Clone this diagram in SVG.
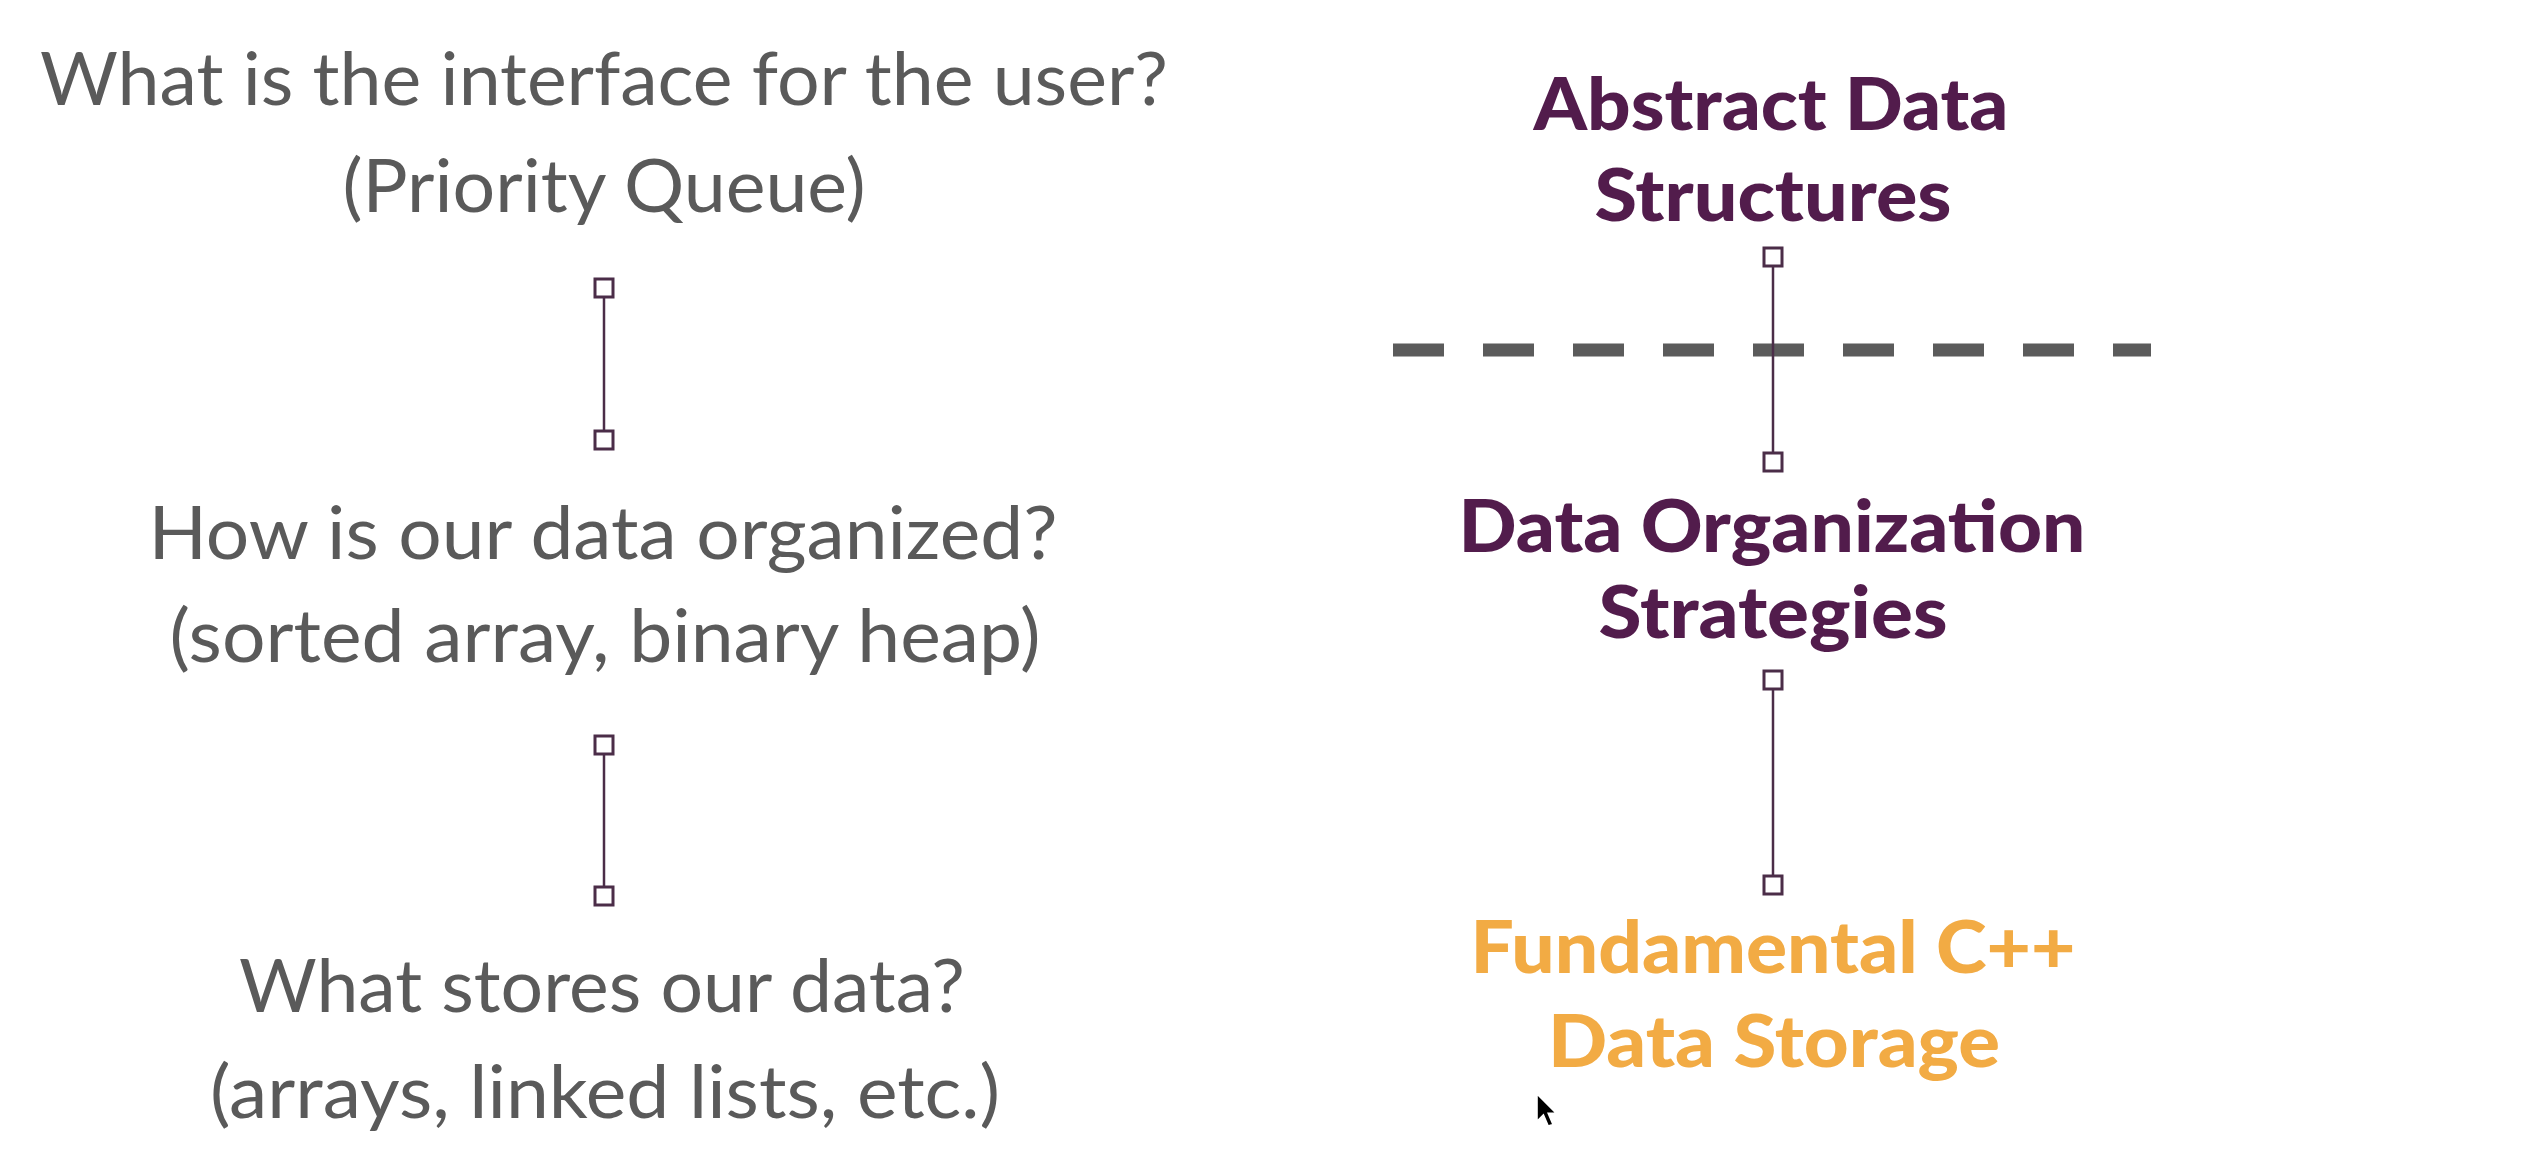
<svg xmlns="http://www.w3.org/2000/svg" width="2523" height="1173" viewBox="0 0 2523 1173">
  <style>
    .q { font-family: Lato, "Open Sans", "Liberation Sans", sans-serif; font-size: 73px; fill: #5a5a5a; text-anchor: middle; }
    .h { font-family: Lato, "Open Sans", "Liberation Sans", sans-serif; font-size: 73px; font-weight: 900; text-anchor: middle; }
    .purple { fill: #521c4c; }
    .orange { fill: #f2ab44; }
    .link { stroke: #4b2d48; stroke-width: 2.5; fill: none; }
    .end { fill: #ffffff; stroke: #4b2d48; stroke-width: 3; }
  </style>
  <rect width="2523" height="1173" fill="#ffffff"/>

  <g id="node-interface">
    <text class="q" x="604" y="105" textLength="1128" lengthAdjust="spacingAndGlyphs">What is the interface for the user?</text>
    <text class="q" x="604" y="212" textLength="523" lengthAdjust="spacingAndGlyphs">(Priority Queue)</text>
  </g>
  <g id="node-organized">
    <text class="q" x="603" y="559" textLength="909" lengthAdjust="spacingAndGlyphs">How is our data organized?</text>
    <text class="q" x="605" y="662" textLength="871" lengthAdjust="spacingAndGlyphs">(sorted array, binary heap)</text>
  </g>
  <g id="node-stores">
    <text class="q" x="602" y="1012" textLength="726" lengthAdjust="spacingAndGlyphs">What stores our data?</text>
    <text class="q" x="605" y="1118" textLength="790" lengthAdjust="spacingAndGlyphs">(arrays, linked lists, etc.)</text>
  </g>

  <g id="node-abstract">
    <text class="h purple" x="1771" y="130" textLength="475" lengthAdjust="spacingAndGlyphs">Abstract Data</text>
    <text class="h purple" x="1773" y="221" textLength="357" lengthAdjust="spacingAndGlyphs">Structures</text>
  </g>
  <g id="node-strategies">
    <text class="h purple" x="1772" y="552" textLength="627" lengthAdjust="spacingAndGlyphs">Data Organization</text>
    <text class="h purple" x="1773" y="638" textLength="349" lengthAdjust="spacingAndGlyphs">Strategies</text>
  </g>
  <g id="node-storage">
    <text class="h orange" x="1773" y="973" textLength="605" lengthAdjust="spacingAndGlyphs">Fundamental C++</text>
    <text class="h orange" x="1774" y="1067" textLength="452" lengthAdjust="spacingAndGlyphs">Data Storage</text>
  </g>

  <g id="separator">
    <line x1="1393" y1="350" x2="2151" y2="350" stroke="#5b5b5b" stroke-width="13" stroke-dasharray="51 39"/>
  </g>

  <g id="connectors">
    <line class="link" x1="604" y1="297" x2="604" y2="431"/>
    <rect class="end" x="595" y="279" width="18" height="18"/>
    <rect class="end" x="595" y="431" width="18" height="18"/>

    <line class="link" x1="604" y1="754" x2="604" y2="887"/>
    <rect class="end" x="595" y="736" width="18" height="18"/>
    <rect class="end" x="595" y="887" width="18" height="18"/>

    <line class="link" x1="1773" y1="266" x2="1773" y2="453"/>
    <rect class="end" x="1764" y="248" width="18" height="18"/>
    <rect class="end" x="1764" y="453" width="18" height="18"/>

    <line class="link" x1="1773" y1="689" x2="1773" y2="876"/>
    <rect class="end" x="1764" y="671" width="18" height="18"/>
    <rect class="end" x="1764" y="876" width="18" height="18"/>
  </g>

  <g id="cursor" transform="translate(1537,1094) scale(1.6)">
    <polygon points="0,0 0,17 4,13 7,20 10,19 7,12 12,12" fill="#000000" stroke="#ffffff" stroke-width="1"/>
  </g>
</svg>
